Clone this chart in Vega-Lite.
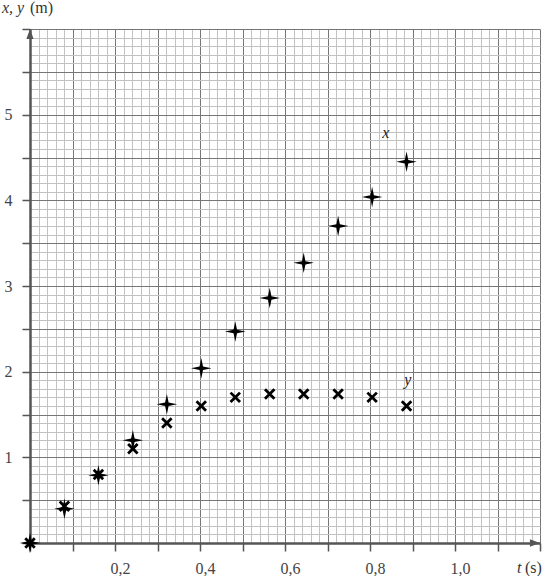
{
  "$schema": "https://vega.github.io/schema/vega-lite/v6.json",
  "width": 510,
  "height": 514,
  "autosize": "none",
  "padding": {"left": 30, "top": 29, "right": 7, "bottom": 33},
  "background": "white",
  "config": {"view": {"stroke": null}, "font": "'Liberation Serif', 'Times New Roman', serif"},
  "data": {
    "values": [
      {"t": 0, "series": "x", "value": 0},
      {"t": 0.081, "series": "x", "value": 0.40},
      {"t": 0.161, "series": "x", "value": 0.79},
      {"t": 0.242, "series": "x", "value": 1.20},
      {"t": 0.322, "series": "x", "value": 1.62},
      {"t": 0.403, "series": "x", "value": 2.04},
      {"t": 0.483, "series": "x", "value": 2.47},
      {"t": 0.564, "series": "x", "value": 2.86},
      {"t": 0.644, "series": "x", "value": 3.27},
      {"t": 0.725, "series": "x", "value": 3.70},
      {"t": 0.805, "series": "x", "value": 4.04},
      {"t": 0.886, "series": "x", "value": 4.45},
      {"t": 0, "series": "y", "value": 0},
      {"t": 0.081, "series": "y", "value": 0.43},
      {"t": 0.161, "series": "y", "value": 0.80},
      {"t": 0.242, "series": "y", "value": 1.10},
      {"t": 0.322, "series": "y", "value": 1.40},
      {"t": 0.403, "series": "y", "value": 1.60},
      {"t": 0.483, "series": "y", "value": 1.70},
      {"t": 0.564, "series": "y", "value": 1.74},
      {"t": 0.644, "series": "y", "value": 1.74},
      {"t": 0.725, "series": "y", "value": 1.74},
      {"t": 0.805, "series": "y", "value": 1.70},
      {"t": 0.886, "series": "y", "value": 1.60}
    ]
  },
  "encoding": {
    "x": {
      "field": "t",
      "type": "quantitative",
      "scale": {"domain": [0, 1.2], "nice": false, "zero": true},
      "axis": {
        "title": null,
        "values": [0,0.02,0.04,0.06,0.08,0.1,0.12,0.14,0.16,0.18,0.2,0.22,0.24,0.26,0.28,0.3,0.32,0.34,0.36,0.38,0.4,0.42,0.44,0.46,0.48,0.5,0.52,0.54,0.56,0.58,0.6,0.62,0.64,0.66,0.68,0.7,0.72,0.74,0.76,0.78,0.8,0.82,0.84,0.86,0.88,0.9,0.92,0.94,0.96,0.98,1,1.02,1.04,1.06,1.08,1.1,1.12,1.14,1.16,1.18,1.2],
        "grid": true,
        "gridColor": {"condition": {"test": "abs(datum.value*10 - round(datum.value*10)) < 0.001", "value": "#767676"}, "value": "#c2c2c2"},
        "gridWidth": 1,
        "gridOpacity": 1,
        "ticks": true,
        "tickSize": 8,
        "tickWidth": 1.5,
        "tickColor": {"condition": {"test": "abs(datum.value*10 - round(datum.value*10)) < 0.001", "value": "#555555"}, "value": "rgba(0,0,0,0)"},
        "domainColor": "#555555",
        "domainWidth": 2.5,
        "labelExpr": "abs(datum.value*5 - round(datum.value*5)) < 0.001 && datum.value > 0.1 && datum.value < 1.1 ? replace(format(datum.value, '.1f'), '.', ',') : ''",
        "labelOverlap": false,
        "labelFlush": false,
        "labelBound": false,
        "labelFont": "'Liberation Serif', 'Times New Roman', serif",
        "labelFontSize": 16,
        "labelFontWeight": "normal",
        "labelColor": "#444444",
        "labelPadding": 9,
        "labelOffset": 5
      }
    },
    "y": {
      "field": "value",
      "type": "quantitative",
      "scale": {"domain": [0, 6], "nice": false, "zero": true},
      "axis": {
        "title": null,
        "values": [0,0.1,0.2,0.3,0.4,0.5,0.6,0.7,0.8,0.9,1,1.1,1.2,1.3,1.4,1.5,1.6,1.7,1.8,1.9,2,2.1,2.2,2.3,2.4,2.5,2.6,2.7,2.8,2.9,3,3.1,3.2,3.3,3.4,3.5,3.6,3.7,3.8,3.9,4,4.1,4.2,4.3,4.4,4.5,4.6,4.7,4.8,4.9,5,5.1,5.2,5.3,5.4,5.5,5.6,5.7,5.8,5.9,6],
        "grid": true,
        "gridColor": {"condition": {"test": "abs(datum.value*2 - round(datum.value*2)) < 0.001", "value": "#767676"}, "value": "#c2c2c2"},
        "gridWidth": 1,
        "gridOpacity": 1,
        "ticks": true,
        "tickSize": 8,
        "tickWidth": 1.5,
        "tickColor": {"condition": {"test": "abs(datum.value*2 - round(datum.value*2)) < 0.001", "value": "#555555"}, "value": "rgba(0,0,0,0)"},
        "domainColor": "#555555",
        "domainWidth": 2.5,
        "labelExpr": "abs(datum.value - round(datum.value)) < 0.001 && datum.value >= 1 && datum.value <= 5 ? format(datum.value, 'd') : ''",
        "labelOverlap": false,
        "labelFlush": false,
        "labelBound": false,
        "labelFont": "'Liberation Serif', 'Times New Roman', serif",
        "labelFontSize": 16,
        "labelFontWeight": "normal",
        "labelColor": "#444444",
        "labelPadding": 10
      }
    }
  },
  "layer": [
    {
      "transform": [{"filter": "datum.series == 'y'"}],
      "mark": {"type": "point", "shape": "M-1,-1L1,1M-1,1L1,-1", "filled": false, "stroke": "black", "strokeWidth": 2.8, "size": 90, "opacity": 1}
    },
    {
      "transform": [{"filter": "datum.series == 'x'"}],
      "mark": {"type": "point", "shape": "M0,-1L0.17,-0.17L1,0L0.17,0.17L0,1L-0.17,0.17L-1,0L-0.17,-0.17Z", "filled": true, "fill": "black", "strokeWidth": 0, "size": 420, "opacity": 1}
    },
    {
      "data": {"values": [{"t": 1.2, "value": 0}]},
      "mark": {"type": "point", "shape": "M0,0L-1.8,-0.65L-1.8,0.65Z", "filled": true, "fill": "#555555", "strokeWidth": 0, "size": 125, "opacity": 1}
    },
    {
      "data": {"values": [{"t": 0, "value": 6}]},
      "mark": {"type": "point", "shape": "M0,0L-0.65,1.8L0.65,1.8Z", "filled": true, "fill": "#555555", "strokeWidth": 0, "size": 125, "opacity": 1}
    },
    {
      "data": {"values": [{"t": 0, "value": 6, "label": "x, y"}]},
      "mark": {"type": "text", "font": "'Liberation Serif', 'Times New Roman', serif", "fontStyle": "italic", "fontWeight": "normal", "fontSize": 16, "align": "left", "baseline": "alphabetic", "dx": -28, "dy": -16, "fill": "#333333", "strokeWidth": 0},
      "encoding": {"text": {"field": "label"}}
    },
    {
      "data": {"values": [{"t": 0, "value": 6, "label": "(m)"}]},
      "mark": {"type": "text", "font": "'Liberation Serif', 'Times New Roman', serif", "fontWeight": "normal", "fontSize": 16, "align": "left", "baseline": "alphabetic", "dx": 0, "dy": -16, "fill": "#333333", "strokeWidth": 0},
      "encoding": {"text": {"field": "label"}}
    },
    {
      "data": {"values": [{"t": 1.2, "value": 0, "label": "t"}]},
      "mark": {"type": "text", "font": "'Liberation Serif', 'Times New Roman', serif", "fontStyle": "italic", "fontWeight": "normal", "fontSize": 16, "align": "left", "baseline": "alphabetic", "dx": -23, "dy": 30, "fill": "#333333", "strokeWidth": 0},
      "encoding": {"text": {"field": "label"}}
    },
    {
      "data": {"values": [{"t": 1.2, "value": 0, "label": "(s)"}]},
      "mark": {"type": "text", "font": "'Liberation Serif', 'Times New Roman', serif", "fontWeight": "normal", "fontSize": 16, "align": "left", "baseline": "alphabetic", "dx": -15, "dy": 30, "fill": "#333333", "strokeWidth": 0},
      "encoding": {"text": {"field": "label"}}
    },
    {
      "data": {"values": [{"t": 0.837, "value": 4.79, "label": "x"}, {"t": 0.889, "value": 1.90, "label": "y"}]},
      "mark": {"type": "text", "font": "'Liberation Serif', 'Times New Roman', serif", "fontStyle": "italic", "fontWeight": "normal", "fontSize": 16, "align": "center", "baseline": "middle", "fill": "#222222", "strokeWidth": 0},
      "encoding": {"text": {"field": "label"}}
    }
  ]
}
